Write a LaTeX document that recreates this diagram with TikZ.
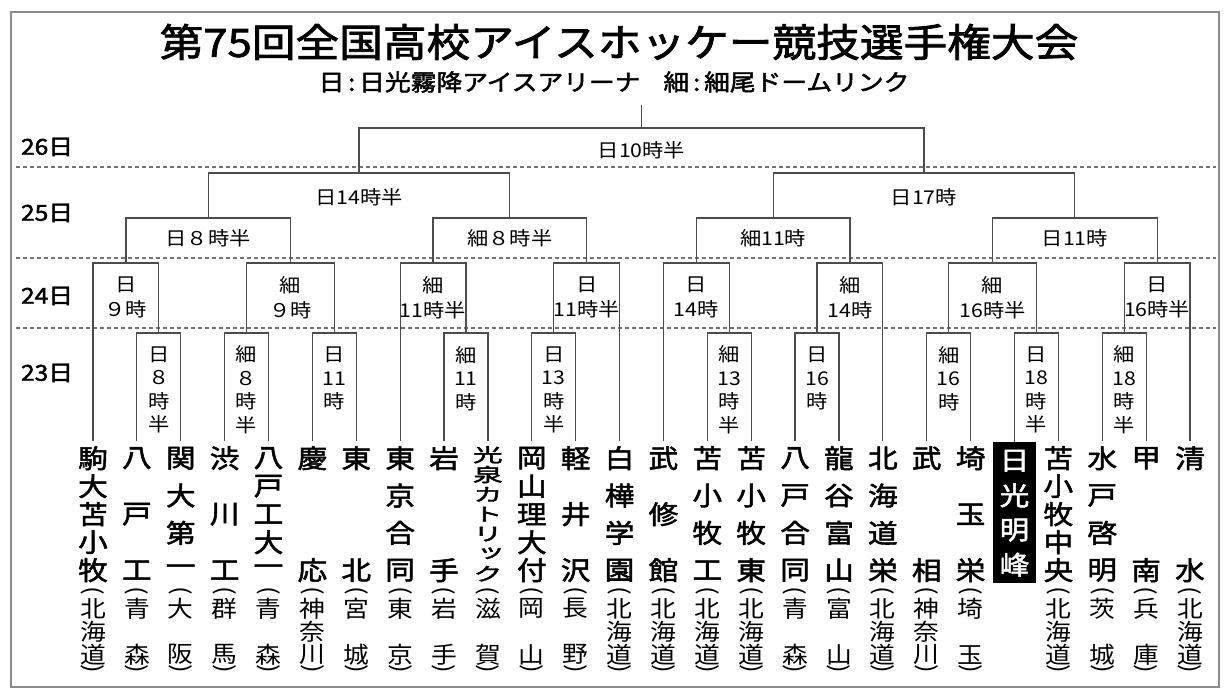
\documentclass[tikz,border=0pt]{standalone}
\usepackage{fontspec}
\setmainfont{Noto Sans CJK JP}[FakeStretch=1.12]
\newfontfamily\medfont{Noto Sans CJK JP}[FakeStretch=1.12,FakeBold=2]
\newfontfamily\namefont{Noto Sans CJK JP}[RawFeature=+vert,FakeStretch=1.14,FakeBold=2]
\newcommand\cx[1]{93+43.88*#1}
\newcommand\vstack[4]{\vbox to #1{\offinterlineskip\foreach[count=\k] \ch in {#4}{\ifnum\k>1 \vfill\fi\hbox to 30pt{\hss\vbox to #2{\vss\hbox{\scalebox{1}[#3]{\ch}}\vss}\hss}}}}
\newcommand\pcell[1]{\hbox to 30pt{\hss\vbox to 9pt{\vss\hbox{#1}\vss}\hss}}
\newcommand\prefbox[1]{\vbox{\offinterlineskip\rmfamily\mdseries\fontsize{23}{23}\selectfont
  \pcell{\rotatebox[origin=c]{-90}{(}}\vstack{69pt}{23pt}{1}{#1}\pcell{\rotatebox[origin=c]{-90}{)}}}}
\newcommand\team[5]{\node[team] (t#1) at (\cx{#1},441) {\vbox{\offinterlineskip\kern4pt\vstack{138pt}{#2}{#3}{#4}\kern5pt\prefbox{#5}}};}
\tikzset{
  bracket/.style={draw=black!70, line width=1.2pt},
  daysep/.style={draw=black!55, line width=1.1pt, dash pattern=on 4pt off 3pt},
  framebox/.style={draw=black!45, line width=2pt},
  team/.style={anchor=north, inner sep=0pt, font=\namefont\fontsize{26}{26}\selectfont},
  titlestyle/.style={inner sep=0pt, font=\medfont\fontsize{39}{39}\selectfont},
  subtitlestyle/.style={inner sep=0pt, font=\medfont\fontsize{23}{23}\selectfont},
  daylbl/.style={inner sep=0pt, font=\medfont\fontsize{22}{22}\selectfont},
  lbl/.style={inner sep=0pt, align=center, font=\fontsize{19}{19}\selectfont},
  lblB/.style={lbl, font=\fontsize{19}{25}\selectfont},
  lblA/.style={lbl, font=\fontsize{19}{23.5}\selectfont},
}
\begin{document}
\begin{tikzpicture}[x=1pt,y=-1pt]
\useasboundingbox (0,0) rectangle (1227,695);
\fill[white] (0,0) rectangle (1227,695);
\draw[framebox] (11,12) rectangle (1219,687);
% title
\node[titlestyle] (title) at (619,42) {第75回全国高校アイスホッケー競技選手権大会};
\node[subtitlestyle] (subtitle) at (614,82) {日\,:\,日光霧降アイスアリーナ\hspace{1em}細\,:\,細尾ドームリンク};
% day separators
\draw[daysep] (16,167) -- (1216,167);
\draw[daysep] (16,258) -- (1216,258);
\draw[daysep] (16,328) -- (1216,328);
\node[daylbl] (d26) at (47,147) {26日};
\node[daylbl] (d25) at (47,213) {25日};
\node[daylbl] (d24) at (47,296) {24日};
\node[daylbl] (d23) at (47,373) {23日};
% teams
\team{0}{26pt}{1}{駒,大,苫,小,牧}{北,海,道}
\team{1}{26pt}{1}{八,戸,工}{青,森}
\team{2}{26pt}{1}{関,大,第,一}{大,阪}
\team{3}{26pt}{1}{渋,川,工}{群,馬}
\team{4}{26pt}{1}{八,戸,工,大,一}{青,森}
\team{5}{26pt}{1}{慶,応}{神,奈,川}
\team{6}{26pt}{1}{東,北}{宮,城}
\team{7}{26pt}{1}{東,京,合,同}{東,京}
\team{8}{26pt}{1}{岩,手}{岩,手}
\team{9}{19pt}{0.72}{光,泉,カ,ト,リ,ッ,ク}{滋,賀}
\team{10}{26pt}{1}{岡,山,理,大,付}{岡,山}
\team{11}{26pt}{1}{軽,井,沢}{長,野}
\team{12}{26pt}{1}{白,樺,学,園}{北,海,道}
\team{13}{26pt}{1}{武,修,館}{北,海,道}
\team{14}{26pt}{1}{苫,小,牧,工}{北,海,道}
\team{15}{26pt}{1}{苫,小,牧,東}{北,海,道}
\team{16}{26pt}{1}{八,戸,合,同}{青,森}
\team{17}{26pt}{1}{龍,谷,富,山}{富,山}
\team{18}{26pt}{1}{北,海,道,栄}{北,海,道}
\team{19}{26pt}{1}{武,相}{神,奈,川}
\team{20}{26pt}{1}{埼,玉,栄}{埼,玉}
\node[team, fill=black, text=white, inner xsep=6.5pt, inner ysep=5.5pt] (t21) at (\cx{21},442) {\vbox{\offinterlineskip\vstack{130pt}{26pt}{1}{日,光,明,峰}}};
\team{22}{26pt}{1}{苫,小,牧,中,央}{北,海,道}
\team{23}{26pt}{1}{水,戸,啓,明}{茨,城}
\team{24}{26pt}{1}{甲,南}{兵,庫}
\team{25}{26pt}{1}{清,水}{北,海,道}
% round 1 (23日)
\coordinate (a1) at (\cx{1.5},333);
\coordinate (a2) at (\cx{3.5},333);
\coordinate (a3) at (\cx{5.5},333);
\coordinate (a4) at (\cx{8.5},333);
\coordinate (a5) at (\cx{10.5},333);
\coordinate (a6) at (\cx{14.5},333);
\coordinate (a7) at (\cx{16.5},333);
\coordinate (a8) at (\cx{19.5},333);
\coordinate (a9) at (\cx{21.5},333);
\coordinate (a10) at (\cx{23.5},333);
\draw[bracket] (t1.north) |- (a1) -| (t2.north);
\draw[bracket] (t3.north) |- (a2) -| (t4.north);
\draw[bracket] (t5.north) |- (a3) -| (t6.north);
\draw[bracket] (t8.north) |- (a4) -| (t9.north);
\draw[bracket] (t10.north) |- (a5) -| (t11.north);
\draw[bracket] (t14.north) |- (a6) -| (t15.north);
\draw[bracket] (t16.north) |- (a7) -| (t17.north);
\draw[bracket] (t19.north) |- (a8) -| (t20.north);
\draw[bracket] (t21.north) |- (a9) -| (t22.north);
\draw[bracket] (t23.north) |- (a10) -| (t24.north);
\node[lblA] (la1) at (\cx{1.5},390) {日\\８\\時\\半};
\node[lblA] (la2) at (\cx{3.5},390) {細\\８\\時\\半};
\node[lblA] (la3) at (\cx{5.5},378.5) {日\\11\\時};
\node[lblA] (la4) at (\cx{8.5},378.5) {細\\11\\時};
\node[lblA] (la5) at (\cx{10.5},390) {日\\13\\時\\半};
\node[lblA] (la6) at (\cx{14.5},390) {細\\13\\時\\半};
\node[lblA] (la7) at (\cx{16.5},378.5) {日\\16\\時};
\node[lblA] (la8) at (\cx{19.5},378.5) {細\\16\\時};
\node[lblA] (la9) at (\cx{21.5},390) {日\\18\\時\\半};
\node[lblA] (la10) at (\cx{23.5},390) {細\\18\\時\\半};
% round 2 (24日)
\coordinate (b1) at (\cx{0.75},263);
\coordinate (b2) at (\cx{4.5},263);
\coordinate (b3) at (\cx{7.75},263);
\coordinate (b4) at (\cx{11.25},263);
\coordinate (b5) at (\cx{13.75},263);
\coordinate (b6) at (\cx{17.25},263);
\coordinate (b7) at (\cx{20.5},263);
\coordinate (b8) at (\cx{24.25},263);
\draw[bracket] (t0.north) |- (b1) -| (a1);
\draw[bracket] (a2) |- (b2) -| (a3);
\draw[bracket] (t7.north) |- (b3) -| (a4);
\draw[bracket] (a5) |- (b4) -| (t12.north);
\draw[bracket] (t13.north) |- (b5) -| (a6);
\draw[bracket] (a7) |- (b6) -| (t18.north);
\draw[bracket] (a8) |- (b7) -| (a9);
\draw[bracket] (a10) |- (b8) -| (t25.north);
\node[lblB] (lb1) at (\cx{0.75},297.5) {日\\９時};
\node[lblB] (lb2) at (\cx{4.5},297.5) {細\\９時};
\node[lblB] (lb3) at (\cx{7.75},297.5) {細\\11時半};
\node[lblB] (lb4) at (\cx{11.25},297.5) {日\\11時半};
\node[lblB] (lb5) at (\cx{13.75},297.5) {日\\14時};
\node[lblB] (lb6) at (\cx{17.25},297.5) {細\\14時};
\node[lblB] (lb7) at (\cx{20.5},297.5) {細\\16時半};
\node[lblB] (lb8) at (\cx{24.25},297.5) {日\\16時半};
% quarterfinals (25日)
\coordinate (c1) at (\cx{2.625},218);
\coordinate (c2) at (\cx{9.5},218);
\coordinate (c3) at (\cx{15.5},218);
\coordinate (c4) at (\cx{22.375},218);
\draw[bracket] (b1) |- (c1) -| (b2);
\draw[bracket] (b3) |- (c2) -| (b4);
\draw[bracket] (b5) |- (c3) -| (b6);
\draw[bracket] (b7) |- (c4) -| (b8);
\node[lbl] (lc1) at (\cx{2.625},238) {日８時半};
\node[lbl] (lc2) at (\cx{9.5},238) {細８時半};
\node[lbl] (lc3) at (\cx{15.5},238) {細11時};
\node[lbl] (lc4) at (\cx{22.375},238) {日11時};
% semifinals
\coordinate (s1) at (\cx{6.0625},173);
\coordinate (s2) at (\cx{18.9375},173);
\draw[bracket] (c1) |- (s1) -| (c2);
\draw[bracket] (c3) |- (s2) -| (c4);
\node[lbl] (ls1) at (\cx{6.0625},197) {日14時半};
\node[lbl] (ls2) at (\cx{18.9375},197) {日17時};
% final (26日)
\coordinate (f) at (\cx{12.5},128);
\coordinate (champ) at (\cx{12.5},105);
\draw[bracket] (s1) |- (f) -| (s2);
\draw[bracket] (f) -- (champ);
\node[lbl] (lf) at (\cx{12.5},150) {日10時半};
\end{tikzpicture}
\end{document}
